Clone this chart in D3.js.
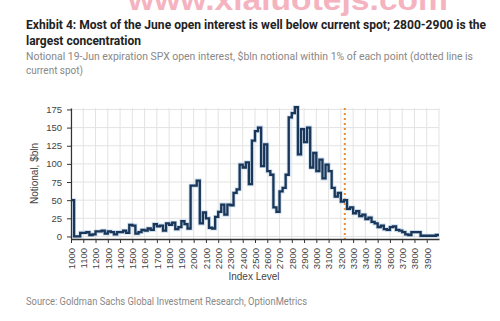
<!DOCTYPE html>
<html>
<head>
<meta charset="utf-8">
<script src="https://cdn.jsdelivr.net/npm/d3@7"></script>
<style>
  body { margin: 0; background: #fff; }
  svg { display: block; }
</style>
</head>
<body>
<svg></svg>
<script>
// Data: strike level (index) and $bln notional
const strikes = d3.range(1000, 4000, 25);
const notional = [
  50, 0, 0, 5, 5, 6, 2, 3, 7, 7, 8, 4, 7, 6, 3, 6, 6, 8, 5, 16,
  15, 4, 6, 9, 8, 11, 9, 17, 14, 15, 8, 18, 16, 19, 10, 13, 21, 17, 11, 70,
  70, 77, 18, 33, 25, 12, 11, 27, 34, 44, 30, 44, 43, 60, 65, 99, 95, 102, 72, 132,
  145, 150, 97, 127, 90, 85, 40, 34, 62, 67, 85, 164, 170, 178, 113, 148, 130, 150, 95, 115,
  90, 106, 80, 99, 90, 67, 55, 60, 48, 50, 38, 40, 32, 35, 28, 30, 24, 26, 20, 18,
  13, 15, 10, 9, 13, 14, 9, 8, 6, 3, 2, 6, 6, 6, 1, 1, 1, 1, 1, 2
];
const spot = 3232;
const xTicks = d3.range(1000, 4000, 100);
const yTicks = [0, 25, 50, 75, 100, 125, 150, 175];

const title = ["Exhibit 4: Most of the June open interest is well below current spot; 2800-2900 is the",
               "largest concentration"];
const subtitle = ["Notional 19-Jun expiration SPX open interest, $bln notional within 1% of each point (dotted line is",
                  "current spot)"];
const source = "Source: Goldman Sachs Global Investment Research, OptionMetrics";

const data = strikes.map((s, i) => ({ strike: s, value: notional[i] }));

const width = 500;
const height = 321;
const marginLeft = 71;
const marginRight = 61;
const marginTop = 108;
const plotBottom = 239;

const x = d3.scaleLinear([1000, 4000], [marginLeft, width - marginRight]);
const y = d3.scaleLinear([-3.5, 177], [plotBottom, marginTop]);

const svg = d3.select("svg")
    .attr("width", width)
    .attr("height", height)
    .attr("viewBox", [0, 0, width, height]);

// watermark (cut at the top edge, as in the source image)
svg.append("text")
    .attr("x", 128).attr("y", 10)
    .attr("textLength", 320).attr("lengthAdjust", "spacingAndGlyphs")
    .attr("font-family", "Liberation Sans, Arial, sans-serif")
    .attr("font-weight", "bold").attr("font-size", 30)
    .attr("fill", "#f5b3bf")
    .text("www.xiaiuotejs.com");

const condensed = "'Liberation Sans Narrow', 'Roboto', 'Liberation Sans', sans-serif";

// headings
svg.append("text")
    .attr("x", 26).attr("y", 29)
    .attr("textLength", 460).attr("lengthAdjust", "spacingAndGlyphs")
    .attr("font-family", condensed).attr("font-weight", "bold").attr("font-size", 13)
    .attr("fill", "#222").text(title[0]);
svg.append("text")
    .attr("x", 26).attr("y", 45)
    .attr("textLength", 115).attr("lengthAdjust", "spacingAndGlyphs")
    .attr("font-family", condensed).attr("font-weight", "bold").attr("font-size", 13)
    .attr("fill", "#222").text(title[1]);
svg.append("text")
    .attr("x", 26).attr("y", 60)
    .attr("textLength", 447).attr("lengthAdjust", "spacingAndGlyphs")
    .attr("font-family", condensed).attr("font-size", 10.5)
    .attr("fill", "#888").text(subtitle[0]);
svg.append("text")
    .attr("x", 26).attr("y", 74)
    .attr("textLength", 57).attr("lengthAdjust", "spacingAndGlyphs")
    .attr("font-family", condensed).attr("font-size", 10.5)
    .attr("fill", "#888").text(subtitle[1]);
svg.append("text")
    .attr("x", 26).attr("y", 305)
    .attr("textLength", 281).attr("lengthAdjust", "spacingAndGlyphs")
    .attr("font-family", condensed).attr("font-size", 10)
    .attr("fill", "#888").text(source);

// grid
svg.append("g")
    .attr("stroke", "#e3e3e3").attr("stroke-width", 1)
    .call(g => g.selectAll("line.v").data(xTicks.concat([4000])).join("line")
        .attr("x1", d => x(d)).attr("x2", d => x(d))
        .attr("y1", marginTop).attr("y2", plotBottom))
    .call(g => g.selectAll("line.h").data(yTicks).join("line")
        .attr("x1", marginLeft).attr("x2", width - marginRight)
        .attr("y1", d => y(d)).attr("y2", d => y(d)));

// spot line
svg.append("line")
    .attr("x1", x(spot)).attr("x2", x(spot))
    .attr("y1", marginTop).attr("y2", plotBottom)
    .attr("stroke", "#e98c2f").attr("stroke-width", 2)
    .attr("stroke-dasharray", "2,3");

// series
const line = d3.line()
    .x(d => x(d.strike))
    .y(d => y(d.value))
    .curve(d3.curveStepAfter);

const lineData = data.concat([{ strike: 4000, value: notional[notional.length - 1] }]);

svg.append("path")
    .attr("fill", "none")
    .attr("stroke", "#a9c6e3")
    .attr("stroke-width", 4)
    .attr("stroke-opacity", 0.6)
    .attr("d", line(lineData));
svg.append("path")
    .attr("fill", "none")
    .attr("stroke", "#1a3658")
    .attr("stroke-width", 2.3)
    .attr("d", line(lineData));

const axisFont = "'Liberation Sans', Arial, sans-serif";

// y axis
svg.append("g")
    .attr("transform", `translate(${marginLeft},0)`)
    .call(d3.axisLeft(y).tickValues(yTicks).tickSize(4).tickSizeOuter(0))
    .call(g => g.select(".domain").attr("stroke", "#333").attr("stroke-width", 1.2))
    .call(g => g.selectAll(".tick line").attr("stroke", "#333"))
    .call(g => g.selectAll(".tick text")
        .attr("font-family", axisFont).attr("font-size", 9.5).attr("fill", "#444").attr("dx", -2));

// x axis
svg.append("g")
    .attr("transform", `translate(0,${plotBottom})`)
    .call(d3.axisBottom(x).tickValues(xTicks).tickSize(4).tickSizeOuter(0).tickFormat(d3.format("d")))
    .call(g => g.select(".domain").attr("stroke", "#333").attr("stroke-width", 1.4))
    .call(g => g.selectAll(".tick line").attr("stroke", "#333"))
    .call(g => g.selectAll(".tick text")
        .attr("font-family", axisFont).attr("font-size", 9.5).attr("fill", "#444")
        .attr("transform", "rotate(-90)")
        .attr("text-anchor", "end")
        .attr("x", -9).attr("y", 0).attr("dy", "0.35em"));

// axis titles
svg.append("text")
    .attr("transform", `translate(38,${(marginTop + plotBottom) / 2}) rotate(-90)`)
    .attr("text-anchor", "middle")
    .attr("font-family", axisFont).attr("font-size", 10).attr("fill", "#444")
    .text("Notional, $bln");
svg.append("text")
    .attr("x", 254).attr("y", 280)
    .attr("text-anchor", "middle")
    .attr("font-family", axisFont).attr("font-size", 10).attr("fill", "#444")
    .text("Index Level");
</script>
</body>
</html>
